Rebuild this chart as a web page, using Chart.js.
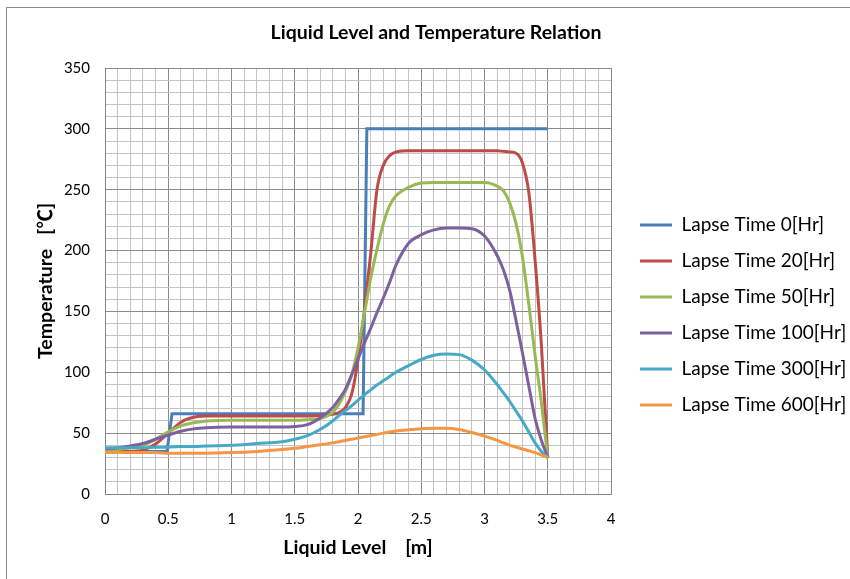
<!DOCTYPE html>
<html>
<head>
<meta charset="utf-8">
<script src="https://cdn.jsdelivr.net/npm/chart.js"></script>
<style>
  body { margin: 0; background: #fff; }
  #wrap { position: relative; width: 850px; height: 579px; overflow: hidden; }
  #frame { position: absolute; left: 6px; top: 7px; width: 900px; height: 600px;
           border-left: 1px solid #8c8c8c; border-top: 1px solid #8c8c8c; pointer-events: none; }
</style>
</head>
<body>
<div id="wrap">
  <canvas id="levelChart" width="850" height="579"></canvas>
  <div id="frame"></div>
</div>
<script>
// liquid level [m] shared by the smooth series
var level = [0, 0.1, 0.2, 0.3, 0.4, 0.5, 0.6, 0.7, 0.8, 1.0, 1.2, 1.4, 1.5, 1.6, 1.7, 1.8, 1.85, 1.9, 1.95, 2.0,
             2.05, 2.1, 2.15, 2.2, 2.25, 2.3, 2.4, 2.5, 2.6, 2.7, 2.8, 2.9, 3.0, 3.1, 3.15, 3.2, 3.25, 3.3, 3.35, 3.4, 3.45, 3.5];

// lapse time 0 is a step profile
var level0 = [0, 0.49, 0.53, 2.04, 2.07, 3.5];
var temp0  = [35, 35, 66, 66, 300, 300];

var temp20  = [35, 35, 35, 36, 41, 50, 59, 63, 64, 64, 64, 64, 64, 64, 64.5, 65.5, 67, 71, 82, 110,
               150, 197, 250, 270, 278, 281, 282, 282, 282, 282, 282, 282, 282, 282, 281.5, 281, 280, 272, 248, 192, 122, 30];
var temp50  = [35.5, 36.5, 38, 40, 45, 51, 56, 58.5, 60, 60.5, 60.5, 60.5, 60.5, 61, 62, 67, 74, 84, 98, 120,
               148, 177, 201, 222, 237, 245, 252, 255.5, 256, 256, 256, 256, 256, 253, 249, 239, 222, 195, 156, 114, 75, 30];
var temp100 = [37, 38, 39.5, 41.5, 45, 48.5, 51.5, 53.5, 54.5, 55, 55, 55, 55.5, 57, 62.5, 71, 78, 86, 98, 111,
               124, 136, 149, 161, 174, 188, 206, 213, 217, 218.5, 218.5, 218, 212, 196, 184, 167, 142, 116, 89, 62, 44, 30];
var temp300 = [38, 38, 38, 38, 38.5, 38.5, 39, 39, 39.5, 40, 41.5, 43, 45, 48, 53, 60, 64.5, 68.5, 72.5, 77,
               81.5, 85.5, 89.5, 93, 96.5, 100, 105.5, 110.5, 114, 115, 114.5, 110, 102, 90, 83, 76, 68, 60, 51, 42, 35, 30];
var temp600 = [34, 34, 34, 34, 34, 33.5, 33.5, 33.5, 33.5, 34, 35, 36.5, 37.5, 39, 40.5, 42, 43, 44, 45, 46,
               47, 48, 49, 50, 51, 51.8, 52.8, 53.6, 54, 54, 53, 50.5, 47.5, 44, 42, 40, 38.5, 37, 35.5, 34, 32, 30];

var seriesNames = ['Lapse Time 0[Hr]', 'Lapse Time 20[Hr]', 'Lapse Time 50[Hr]',
                   'Lapse Time 100[Hr]', 'Lapse Time 300[Hr]', 'Lapse Time 600[Hr]'];
var colors = ['#4A7EBB', '#BE4B48', '#98B954', '#7D60A0', '#46AAC5', '#F59645'];

function pts(xs, ys) {
  return xs.map(function (x, i) { return { x: x, y: ys[i] }; });
}
function isMajor(v, step) {
  var r = v / step;
  return Math.abs(r - Math.round(r)) < 1e-6;
}

var curves = [pts(level0, temp0), pts(level, temp20), pts(level, temp50),
              pts(level, temp100), pts(level, temp300), pts(level, temp600)];

var datasets = curves.map(function (d, i) {
  return {
    label: seriesNames[i],
    data: d,
    borderColor: colors[i],
    backgroundColor: colors[i],
    borderWidth: 3,
    pointRadius: 0,
    fill: false,
    tension: 0,
    cubicInterpolationMode: i === 0 ? 'default' : 'monotone',
    order: 5 - i
  };
});

var FONT = 'Lato, "Noto Sans CJK JP", sans-serif';

var ctx = document.getElementById('levelChart');
var chart = new Chart(ctx, {
  type: 'line',
  data: { datasets: datasets },
  options: {
    responsive: false,
    animation: false,
    layout: { padding: { left: 22, right: 0, top: 0, bottom: 0 } },
    plugins: {
      title: {
        display: true,
        text: 'Liquid Level and Temperature Relation',
        color: '#000',
        font: { family: FONT, size: 19.5, weight: 'bold' },
        padding: { top: 21.3, bottom: 23.3 }
      },
      legend: {
        position: 'right',
        maxWidth: 227,
        title: { display: true, text: '', font: { size: 10 }, padding: 19.5 },
        labels: {
          color: '#000',
          font: { family: FONT, size: 19 },
          boxWidth: 32,
          boxHeight: 3,
          padding: 17,
          sort: function (a, b) { return a.datasetIndex - b.datasetIndex; },
          generateLabels: function (chart) {
            return Chart.defaults.plugins.legend.labels.generateLabels(chart).map(function (it) {
              it.lineWidth = 0;
              it.strokeStyle = 'rgba(0,0,0,0)';
              it.fillStyle = colors[it.datasetIndex];
              return it;
            });
          }
        }
      },
      tooltip: { enabled: false }
    },
    scales: {
      x: {
        type: 'linear',
        min: 0, max: 4,
        title: {
          display: true,
          text: 'Liquid Level    [m]',
          color: '#000',
          font: { family: FONT, size: 19.5, weight: 'bold' },
          padding: { top: 0, bottom: 19.3 }
        },
        ticks: {
          stepSize: 0.1,
          autoSkip: false,
          maxRotation: 0,
          padding: 16,
          color: '#000',
          font: { family: FONT, size: 15 },
          callback: function (v) { return isMajor(v, 0.5) ? String(+v.toFixed(1)) : ''; }
        },
        grid: {
          drawTicks: false,
          color: function (c) { return isMajor(c.tick.value, 0.5) ? '#8a8a8a' : '#c4c4c4'; }
        },
        border: { color: '#868686' },
        afterFit: function (s) { s.height = 85; }
      },
      y: {
        min: 0, max: 350,
        title: {
          display: true,
          text: 'Temperature   [℃]',
          color: '#000',
          font: { family: FONT, size: 19.5, weight: 'bold' },
          padding: { top: 12.3, bottom: 0 }
        },
        ticks: {
          stepSize: 10,
          autoSkip: false,
          padding: 15,
          color: '#000',
          font: { family: FONT, size: 15 },
          callback: function (v) { return isMajor(v, 50) ? String(v) : ''; }
        },
        grid: {
          drawTicks: false,
          color: function (c) { return isMajor(c.tick.value, 50) ? '#8a8a8a' : '#c4c4c4'; }
        },
        border: { color: '#868686' },
        afterFit: function (s) { s.width = 83; }
      },
      gap: {
        position: 'right',
        display: true,
        grid: { display: false, drawTicks: false },
        border: { display: false },
        ticks: { display: false },
        afterFit: function (s) { s.width = 12; }
      }
    }
  }
});
</script>
</body>
</html>
